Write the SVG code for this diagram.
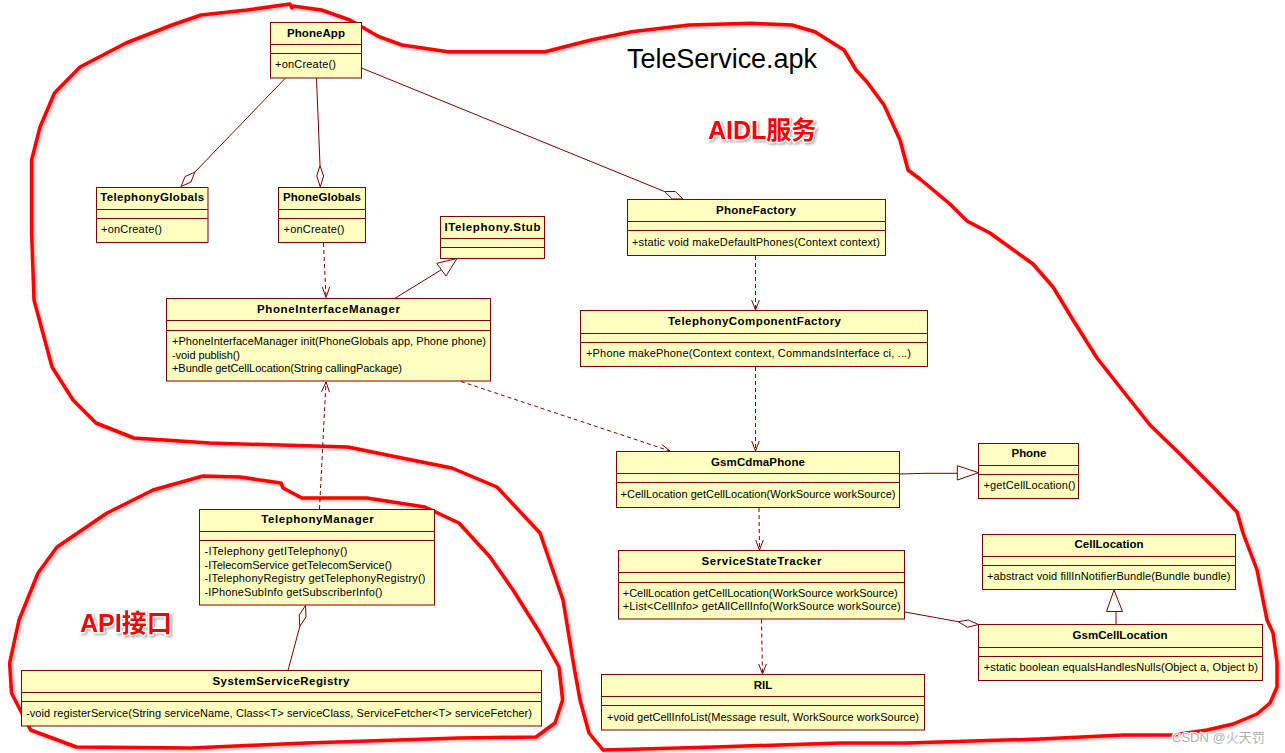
<svg xmlns="http://www.w3.org/2000/svg" width="1285" height="753" viewBox="0 0 1285 753">
<style>
.box{fill:#ffffc0;stroke:#800000;stroke-width:1}
.sep{stroke:#800000;stroke-width:1;fill:none}
.t{font-family:"Liberation Sans",Arial,sans-serif;font-size:11.5px;font-weight:bold;text-anchor:middle;fill:#000}
.o{font-family:"Liberation Sans",Arial,sans-serif;font-size:11px;fill:#000}
.ln{stroke:#800000;stroke-width:1;fill:none}
.dash{stroke-dasharray:4 3}
.hol{fill:#fff;stroke:#800000;stroke-width:1}
.red{fill:none;stroke:#ff0000;stroke-width:3.5;stroke-linejoin:round;stroke-linecap:round}
.lbl{font-family:"Liberation Sans","Noto Sans CJK SC",sans-serif;font-size:25px;font-weight:bold;fill:#ff0000;stroke:#fff;stroke-width:3;paint-order:stroke;stroke-linejoin:round}
.title{font-family:"Liberation Sans",Arial,sans-serif;font-size:27px;fill:#000}
</style>
<defs>
<filter id="sh" x="-10%" y="-10%" width="120%" height="130%"><feDropShadow dx="1.5" dy="1.5" stdDeviation="1.2" flood-color="#777" flood-opacity="0.6"/></filter>
<filter id="rsh" x="-5%" y="-5%" width="110%" height="110%"><feDropShadow dx="2" dy="2" stdDeviation="1" flood-color="#ff0000" flood-opacity="0.25"/></filter>
</defs>

<g id="outlines" filter="url(#rsh)">
<path class="red" d="M292,8 L293,6 L321.5,10 L350,20 L379,36.7 L402,45 L448,51.7 L545,51.7 L591,40 L631.5,31.7 L689,25 L752,23.3 L792,25 L815,31.7 L844,50 L856,70 L867,82 L884,105 L900,140 L908,170 L920,179 L950,204 L967,221 L990,233 L1033,264 L1053,287 L1073,320 L1097,358 L1123,391 L1150,425 L1180,454 L1213,487 L1237,512 L1243,533 L1257,570 L1267,620 L1273,633 L1277,662 L1277,687 L1270,703 L1257,714 L1233,724 L1207,730 L1173,735 L1123,735 L1040,739 L907,743 L840,743 L715,747 L603,750 L589,733 L580,700 L574,667 L563,600 L540,533 L497,487 L452,468 L402,458 L348,447 L210,443 L134,438 L96,423 L73,400 L52,367 L34,300 L31.6,233 L31.6,160 L40,127 L54.5,93 L80,67 L126,43 L172,25 L201,15 L247,10 L290,4 Z"/>
<path class="red" d="M203,476 L240,477 L281,483 L283,488 L302,498 L367,498 L425,507 L459,523 L490,557 L513,590 L540,633 L559,667 L562.6,700 L555,723 L536,737 L459,738 L306,743 L191,748 L76.5,747 L30.6,730 L11.5,693 L9.6,663 L19,620 L38,573 L57,547 L107,513 L153,490 Z"/>
</g>

<text class="title" x="627" y="68" textLength="190" lengthAdjust="spacing">TeleService.apk</text>
<text class="lbl" x="708" y="139" filter="url(#sh)">AIDL服务</text>
<text class="lbl" x="80" y="632" filter="url(#sh)">API接口</text>

<g id="connectors">
<!-- PhoneApp - TelephonyGlobals -->
<line class="ln" x1="285.5" y1="78" x2="194.9" y2="172.1"/>
<path class="hol" d="M181,186.5 L190.9,182.1 L194.9,172.1 L185.1,176.5 Z"/>
<!-- PhoneApp - PhoneGlobals -->
<line class="ln" x1="316.5" y1="78" x2="320" y2="165.5"/>
<path class="hol" d="M320.3,187 L323.6,176 L320,165.5 L316.8,176 Z"/>
<!-- PhoneApp - PhoneFactory -->
<line class="ln" x1="361.5" y1="68" x2="664.5" y2="191.5"/>
<path class="hol" d="M683,199 L675.2,191.5 L664.5,191.5 L672.2,198.9 Z"/>
<!-- PhoneGlobals -> PIM -->
<line class="ln dash" x1="323.5" y1="243" x2="326" y2="297.5"/>
<polyline class="ln" points="322.3,287 326,297.5 329.7,287"/>
<!-- PIM -> ITelephony.Stub -->
<line class="ln" x1="395" y1="298.3" x2="441.4" y2="269.7"/>
<path class="hol" d="M457,258.5 L436.7,263.3 L446,276 Z"/>
<!-- PhoneFactory -> TCF -->
<line class="ln dash" x1="755.5" y1="256" x2="755.5" y2="310"/>
<polyline class="ln" points="751.7,300 755.5,310 759.3,300"/>
<!-- TCF -> GsmCdmaPhone -->
<line class="ln dash" x1="755.5" y1="367" x2="755.5" y2="451"/>
<polyline class="ln" points="751.7,441 755.5,451 759.3,441"/>
<!-- PIM -> GsmCdmaPhone -->
<line class="ln dash" x1="461" y1="381.5" x2="670" y2="451"/>
<polyline class="ln" points="659.2,452.1 670,451 661.8,444.5"/>
<!-- TelephonyManager -> PIM -->
<line class="ln dash" x1="319.5" y1="509" x2="326" y2="382"/>
<polyline class="ln" points="329.5,392.2 326,382 321.5,391.8"/>
<!-- TelephonyManager - SystemServiceRegistry -->
<line class="ln" x1="299.8" y1="626.5" x2="288" y2="670.5"/>
<path class="hol" d="M305.5,605.5 L306,616.9 L299.8,626.5 L299.2,615.1 Z"/>
<!-- GsmCdmaPhone -> Phone -->
<polyline class="ln" points="899.5,474 925,473.3 957.3,473.3"/>
<path class="hol" d="M978.5,472.7 L957.3,465.7 L957.3,480 Z"/>
<!-- GsmCdmaPhone -> SST -->
<line class="ln dash" x1="759" y1="508" x2="759.5" y2="550"/>
<polyline class="ln" points="755.7,540 759.5,550 763.3,540"/>
<!-- SST -> RIL -->
<line class="ln dash" x1="761.5" y1="619.5" x2="762.5" y2="674"/>
<polyline class="ln" points="758.7,664 762.5,674 766.3,664"/>
<!-- GsmCellLocation -> CellLocation -->
<line class="ln" x1="1116" y1="624.5" x2="1116" y2="611.5"/>
<path class="hol" d="M1114,590 L1106.5,611.5 L1122.5,611.5 Z"/>
<!-- SST - GsmCellLocation -->
<line class="ln" x1="905" y1="612" x2="958.3" y2="621.7"/>
<path class="hol" d="M978.5,624.5 L968.3,620 L958.3,621.7 L967.3,627.3 Z"/>
</g>

<g id="PhoneApp">
<rect class="box" x="270.5" y="22.5" width="91" height="55.5"/>
<line class="sep" x1="270.5" y1="44.5" x2="361.5" y2="44.5"/>
<line class="sep" x1="270.5" y1="53.5" x2="361.5" y2="53.5"/>
<text class="t" x="316" y="37" textLength="58" lengthAdjust="spacing">PhoneApp</text>
<text class="o" x="275" y="68" textLength="61" lengthAdjust="spacing">+onCreate()</text>
</g>

<g id="TelephonyGlobals">
<rect class="box" x="96.5" y="187.5" width="111.5" height="55"/>
<line class="sep" x1="96.5" y1="209.5" x2="208" y2="209.5"/>
<line class="sep" x1="96.5" y1="218.5" x2="208" y2="218.5"/>
<text class="t" x="152.2" y="201" textLength="104" lengthAdjust="spacing">TelephonyGlobals</text>
<text class="o" x="101" y="233" textLength="61" lengthAdjust="spacing">+onCreate()</text>
</g>

<g id="PhoneGlobals">
<rect class="box" x="278.5" y="187.5" width="87" height="55"/>
<line class="sep" x1="278.5" y1="209.5" x2="365.5" y2="209.5"/>
<line class="sep" x1="278.5" y1="218.5" x2="365.5" y2="218.5"/>
<text class="t" x="322" y="201" textLength="78" lengthAdjust="spacing">PhoneGlobals</text>
<text class="o" x="283.5" y="233" textLength="61" lengthAdjust="spacing">+onCreate()</text>
</g>

<g id="ITelephonyStub">
<rect class="box" x="440.5" y="216.5" width="104" height="42"/>
<line class="sep" x1="440.5" y1="238.5" x2="544.5" y2="238.5"/>
<line class="sep" x1="440.5" y1="247.5" x2="544.5" y2="247.5"/>
<text class="t" x="492.5" y="231" textLength="96" lengthAdjust="spacing">ITelephony.Stub</text>
</g>

<g id="PhoneFactory">
<rect class="box" x="627.5" y="199.5" width="258" height="56"/>
<line class="sep" x1="627.5" y1="221.5" x2="885.5" y2="221.5"/>
<line class="sep" x1="627.5" y1="230.5" x2="885.5" y2="230.5"/>
<text class="t" x="756" y="214" textLength="80" lengthAdjust="spacing">PhoneFactory</text>
<text class="o" x="632" y="246" textLength="248" lengthAdjust="spacing">+static void makeDefaultPhones(Context context)</text>
</g>

<g id="TelephonyComponentFactory">
<rect class="box" x="580.5" y="310.5" width="347" height="56"/>
<line class="sep" x1="580.5" y1="333.5" x2="927.5" y2="333.5"/>
<line class="sep" x1="580.5" y1="342.5" x2="927.5" y2="342.5"/>
<text class="t" x="754.5" y="325" textLength="173" lengthAdjust="spacing">TelephonyComponentFactory</text>
<text class="o" x="586" y="357" textLength="325" lengthAdjust="spacing">+Phone makePhone(Context context, CommandsInterface ci, ...)</text>
</g>

<g id="PhoneInterfaceManager">
<rect class="box" x="166.5" y="298.5" width="324" height="82.5"/>
<line class="sep" x1="166.5" y1="320.5" x2="490.5" y2="320.5"/>
<line class="sep" x1="166.5" y1="330.5" x2="490.5" y2="330.5"/>
<text class="t" x="328.5" y="313" textLength="143" lengthAdjust="spacing">PhoneInterfaceManager</text>
<text class="o" x="172" y="345" textLength="314" lengthAdjust="spacing">+PhoneInterfaceManager init(PhoneGlobals app, Phone phone)</text>
<text class="o" x="172" y="358.5" textLength="68" lengthAdjust="spacing">-void publish()</text>
<text class="o" x="172" y="372" textLength="230" lengthAdjust="spacing">+Bundle getCellLocation(String callingPackage)</text>
</g>

<g id="GsmCdmaPhone">
<rect class="box" x="616.5" y="451.5" width="283" height="56"/>
<line class="sep" x1="616.5" y1="473.5" x2="899.5" y2="473.5"/>
<line class="sep" x1="616.5" y1="482.5" x2="899.5" y2="482.5"/>
<text class="t" x="758" y="466" textLength="94" lengthAdjust="spacing">GsmCdmaPhone</text>
<text class="o" x="620.5" y="498" textLength="275" lengthAdjust="spacing">+CellLocation getCellLocation(WorkSource workSource)</text>
</g>

<g id="Phone">
<rect class="box" x="978.5" y="443.5" width="100" height="55"/>
<line class="sep" x1="978.5" y1="465.5" x2="1078.5" y2="465.5"/>
<line class="sep" x1="978.5" y1="474.5" x2="1078.5" y2="474.5"/>
<text class="t" x="1029" y="457" textLength="35" lengthAdjust="spacing">Phone</text>
<text class="o" x="983.5" y="489" textLength="92" lengthAdjust="spacing">+getCellLocation()</text>
</g>

<g id="ServiceStateTracker">
<rect class="box" x="618.5" y="550.5" width="286" height="68.5"/>
<line class="sep" x1="618.5" y1="572.5" x2="904.5" y2="572.5"/>
<line class="sep" x1="618.5" y1="582.5" x2="904.5" y2="582.5"/>
<text class="t" x="761.5" y="565" textLength="120" lengthAdjust="spacing">ServiceStateTracker</text>
<text class="o" x="622.7" y="597" textLength="275" lengthAdjust="spacing">+CellLocation getCellLocation(WorkSource workSource)</text>
<text class="o" x="622.7" y="610" textLength="278" lengthAdjust="spacing">+List&lt;CellInfo&gt; getAllCellInfo(WorkSource workSource)</text>
</g>

<g id="RIL">
<rect class="box" x="601.5" y="674.5" width="323" height="55.5"/>
<line class="sep" x1="601.5" y1="696.5" x2="924.5" y2="696.5"/>
<line class="sep" x1="601.5" y1="705.5" x2="924.5" y2="705.5"/>
<text class="t" x="763" y="689" textLength="18.5" lengthAdjust="spacing">RIL</text>
<text class="o" x="607" y="721" textLength="312" lengthAdjust="spacing">+void getCellInfoList(Message result, WorkSource workSource)</text>
</g>

<g id="CellLocation">
<rect class="box" x="982.5" y="534.5" width="253" height="55"/>
<line class="sep" x1="982.5" y1="556.5" x2="1235.5" y2="556.5"/>
<line class="sep" x1="982.5" y1="565.5" x2="1235.5" y2="565.5"/>
<text class="t" x="1109" y="548" textLength="69" lengthAdjust="spacing">CellLocation</text>
<text class="o" x="987" y="580" textLength="243.5" lengthAdjust="spacing">+abstract void fillInNotifierBundle(Bundle bundle)</text>
</g>

<g id="GsmCellLocation">
<rect class="box" x="978.5" y="624.5" width="284" height="56"/>
<line class="sep" x1="978.5" y1="647.5" x2="1262.5" y2="647.5"/>
<line class="sep" x1="978.5" y1="656.5" x2="1262.5" y2="656.5"/>
<text class="t" x="1120" y="639" textLength="95" lengthAdjust="spacing">GsmCellLocation</text>
<text class="o" x="983.8" y="671" textLength="274" lengthAdjust="spacing">+static boolean equalsHandlesNulls(Object a, Object b)</text>
</g>

<g id="TelephonyManager">
<rect class="box" x="199.5" y="509.5" width="235" height="95.5"/>
<line class="sep" x1="199.5" y1="531.5" x2="434.5" y2="531.5"/>
<line class="sep" x1="199.5" y1="540.5" x2="434.5" y2="540.5"/>
<text class="t" x="317.5" y="523" textLength="112.5" lengthAdjust="spacing">TelephonyManager</text>
<text class="o" x="204.5" y="555" textLength="143" lengthAdjust="spacing">-ITelephony getITelephony()</text>
<text class="o" x="204.5" y="568.5" textLength="187.5" lengthAdjust="spacing">-ITelecomService getTelecomService()</text>
<text class="o" x="204.5" y="582" textLength="221" lengthAdjust="spacing">-ITelephonyRegistry getTelephonyRegistry()</text>
<text class="o" x="204.5" y="595.5" textLength="178" lengthAdjust="spacing">-IPhoneSubInfo getSubscriberInfo()</text>
</g>

<g id="SystemServiceRegistry">
<rect class="box" x="21.5" y="670.5" width="520" height="55.5"/>
<line class="sep" x1="21.5" y1="692.5" x2="541.5" y2="692.5"/>
<line class="sep" x1="21.5" y1="701.5" x2="541.5" y2="701.5"/>
<text class="t" x="281" y="685" textLength="137" lengthAdjust="spacing">SystemServiceRegistry</text>
<text class="o" x="26" y="717" textLength="506" lengthAdjust="spacing">-void registerService(String serviceName, Class&lt;T&gt; serviceClass, ServiceFetcher&lt;T&gt; serviceFetcher)</text>
</g>

<text x="1172" y="742" style="font-family:'Liberation Sans','Noto Sans CJK SC',sans-serif;font-size:13px;fill:#b0b0b0;stroke:#fff;stroke-width:2;paint-order:stroke">CSDN @火天罚</text>
</svg>
